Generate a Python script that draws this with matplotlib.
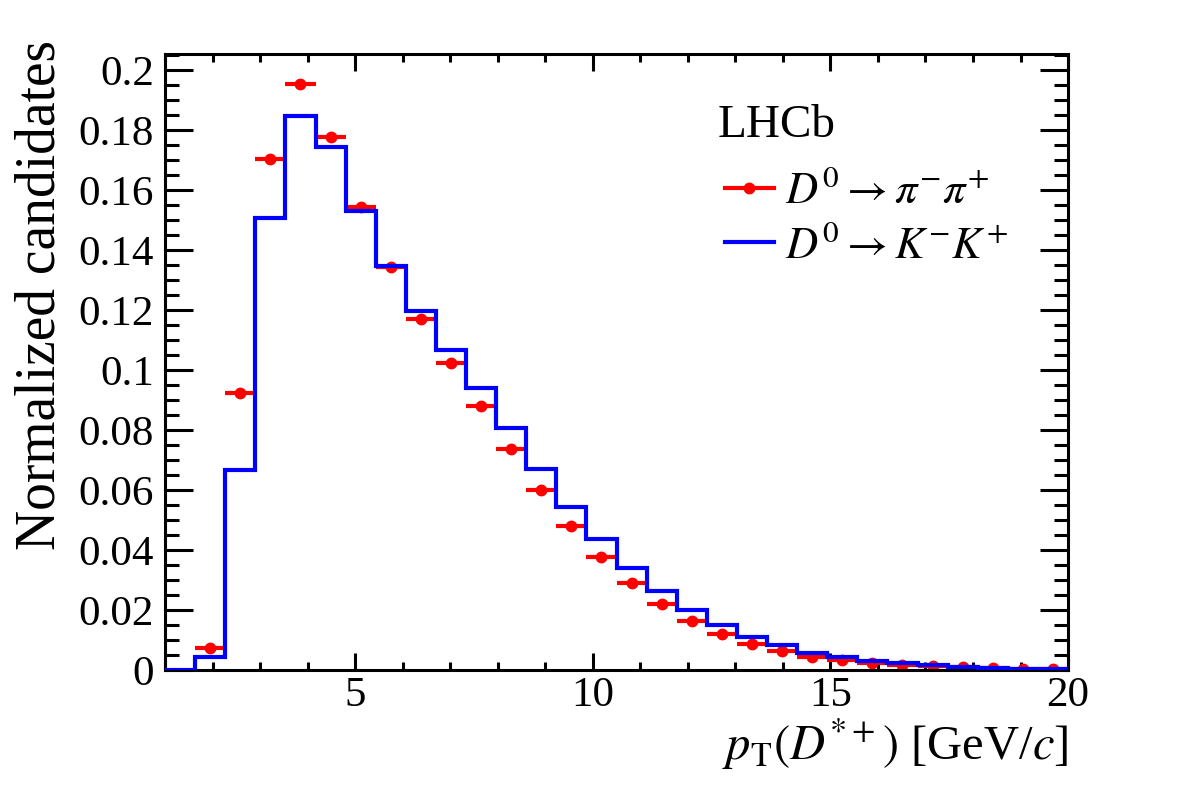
"""D*+ transverse momentum spectra for D0 -> pi pi and D0 -> K K (LHCb style)."""

import matplotlib

matplotlib.use("Agg")
import matplotlib.pyplot as plt
import numpy as np
from matplotlib.lines import Line2D
from matplotlib.ticker import MultipleLocator

plt.rcParams["font.family"] = "serif"
plt.rcParams["font.serif"] = ["Liberation Serif", "Times New Roman", "DejaVu Serif"]
plt.rcParams["mathtext.fontset"] = "stix"

# binning: 30 bins from 1 to 20 GeV/c
pt_lo, pt_hi, n_bins = 1.0, 20.0, 30

# D0 -> K- K+ (histogram)
kk = [0.0, 0.0044, 0.0667, 0.1507, 0.1847, 0.1744, 0.1530, 0.1348, 0.1197, 0.1065,
      0.0939, 0.0806, 0.0669, 0.0544, 0.0438, 0.0341, 0.0263, 0.0200, 0.0149, 0.0111,
      0.0082, 0.0058, 0.0043, 0.0030, 0.0022, 0.0016, 0.0010, 0.0007, 0.0004, 0.0003]

# D0 -> pi- pi+ (points), first bin empty
pipi = [np.nan, 0.0072, 0.0923, 0.1702, 0.1952, 0.1778, 0.1542, 0.1342, 0.1171, 0.1022,
        0.0880, 0.0738, 0.0601, 0.0480, 0.0378, 0.0289, 0.0219, 0.0162, 0.0120, 0.0088,
        0.0063, 0.0044, 0.0032, 0.0022, 0.0017, 0.0013, 0.0010, 0.0008, 0.0004, 0.0003]

edges = np.linspace(pt_lo, pt_hi, n_bins + 1)
centers = 0.5 * (edges[:-1] + edges[1:])
half_width = 0.5 * (edges[1] - edges[0])

fig = plt.figure(figsize=(11.82, 8.0), dpi=100)
ax = fig.add_axes([0.1396, 0.1625, 0.764, 0.77])

# red points with horizontal bin-width bars
ax.errorbar(centers, pipi, xerr=half_width, fmt="o", color="red", ms=7.5,
            elinewidth=3, capsize=0, zorder=2)
# blue histogram on top
ax.stairs(kk, edges, color="blue", linewidth=3, zorder=3)

ax.set_xlim(pt_lo, pt_hi)
ax.set_ylim(0, 0.2053)

ax.xaxis.set_major_locator(MultipleLocator(5))
ax.xaxis.set_minor_locator(MultipleLocator(1))
ax.yaxis.set_major_locator(MultipleLocator(0.02))
ax.yaxis.set_minor_locator(MultipleLocator(0.005))
ax.yaxis.set_major_formatter(lambda v, pos: f"{v:g}")

ax.tick_params(axis="both", which="both", direction="in", top=True, right=True,
               width=2.2, labelsize=31)
ax.tick_params(axis="x", which="major", length=12, pad=5)
ax.tick_params(axis="x", which="minor", length=6)
ax.tick_params(axis="y", which="major", length=20, pad=8)
ax.tick_params(axis="y", which="minor", length=10)
for spine in ax.spines.values():
    spine.set_linewidth(2.2)

fig.text(0.034, 0.95, "Normalized candidates", rotation=90, ha="center", va="top",
         fontsize=40)
fig.text(0.9036, 0.05, r"$p_{\mathrm{T}}(D^{*+})$ [GeV/$c$]", ha="right",
         va="baseline", fontsize=35)

fig.text(0.607, 0.829, "LHCb", va="baseline", fontsize=34)

handles = [
    Line2D([], [], color="red", linewidth=3, marker="o", ms=7.5),
    Line2D([], [], color="blue", linewidth=3),
]
labels = [r"$D^0 \rightarrow \pi^{-}\pi^{+}$", r"$D^0 \rightarrow K^{-}K^{+}$"]
fig.legend(handles, labels, loc="upper left", bbox_to_anchor=(0.598, 0.808),
           frameon=False, fontsize=32, handlelength=1.1, handletextpad=0.25,
           labelspacing=0.3, borderaxespad=0.0)

fig.savefig("out.png", dpi=100)
